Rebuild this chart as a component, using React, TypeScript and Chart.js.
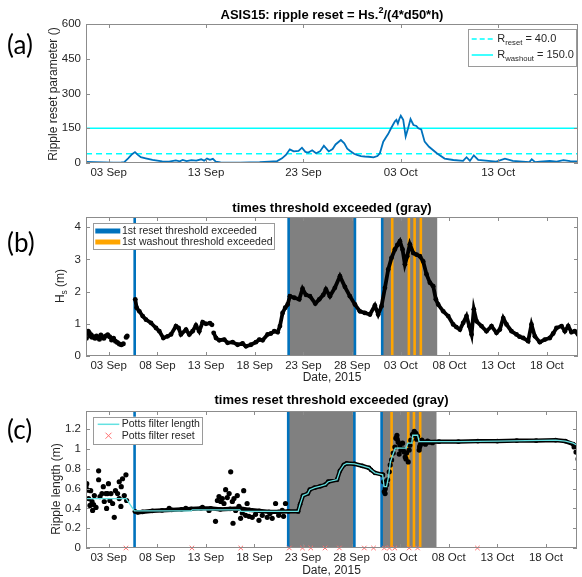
import React, { useEffect, useRef } from "react";
import { Chart, registerables } from "chart.js";
Chart.register(...registerables);

// ---------------- DATA (x = days since 1 Sep 2015) ----------------
const X_MIN = -0.33;
const X_MAX = 50.2;
const TICKS_A = [2, 12, 22, 32, 42];
const TICKS_BC = [2, 7, 12, 17, 22, 27, 32, 37, 42, 47];
const MONTHS = ["Sep", "Oct"];

// (a) ripple reset parameter
const R_RESET = 40.0;
const R_WASHOUT = 150.0;
const resetParamDays = [-0.33,0.5,1.5,2.5,3.3,3.6,4.0,4.4,4.7,5.0,5.3,5.8,6.5,7.0,7.5,8.2,8.9,9.3,9.6,10.0,10.5,11.0,11.5,11.8,12.1,12.4,12.7,13.0,13.5,14.5,15.5,16.5,17.5,18.5,19.3,19.8,20.2,20.6,21.0,21.5,21.85,22.2,22.5,22.9,23.3,23.7,24.1,24.6,25.0,25.3,25.85,26.2,26.5,26.8,27.2,27.5,27.9,28.3,28.7,29.2,29.6,29.85,30.2,30.5,30.7,31.0,31.2,31.4,31.55,31.7,31.85,32.0,32.25,32.5,32.75,33.0,33.3,33.6,33.8,34.1,34.45,34.9,35.7,36.5,37.4,38.4,38.75,39.1,39.5,39.95,41.0,41.8,42.7,43.5,44.5,45.2,45.45,45.8,46.3,47.3,48.0,48.7,49.4,50.2];
const resetParamValues = [5,4,3,2,3,4,20,38,47,35,25,20,13,10,7,6,11,7,13,8,12,10,16,10,19,14,18,6,3,2,2,3,4,6,8,20,35,59,50,52,66,48,45,55,42,50,75,50,60,80,99,85,62,52,40,35,30,28,27,24,30,42,92,112,125,150,165,180,186,170,190,204,186,114,150,190,164,160,150,145,92,70,42,19,13,9,25,9,33,13,9,6,19,9,6,4,16,4,6,9,6,12,8,7];

// (b) significant wave height
const hsEarlyDays = [-0.3,-0.2,-0.1,0.0,0.1,0.2,0.3,0.45,0.6,0.75,0.9,1.05,1.2,1.35,1.5,1.7,1.9,2.1,2.3,2.5,2.7,2.9,3.1,3.3,3.5,3.8,3.9];
const hsEarlyValues = [0.55,0.7,0.77,0.72,0.62,0.66,0.58,0.6,0.55,0.62,0.58,0.52,0.65,0.6,0.55,0.62,0.66,0.6,0.5,0.55,0.46,0.42,0.37,0.35,0.38,0.58,0.62];
const hsDays = [4.73,4.87,5.15,5.49,5.83,6.34,6.86,7.2,7.61,8.05,8.4,8.91,9.18,9.42,9.94,10.28,10.62,10.96,11.3,11.65,11.99,12.4,12.61,12.7,12.78,13.02,13.36,13.87,14.21,14.73,15.24,15.75,16.1,16.61,17.12,17.47,17.81,18.32,18.66,19.0,19.35,19.59,19.86,20.13,20.38,20.61,21.06,21.57,21.91,22.26,22.67,23.22,23.63,24.04,24.31,24.72,25.23,25.75,26.26,26.77,27.29,27.8,28.31,28.83,29.34,29.68,30.02,30.37,30.71,31.05,31.39,31.65,31.91,32.18,32.42,32.66,32.93,33.28,33.62,33.96,34.3,34.64,34.99,35.33,35.6,35.84,36.36,36.87,37.38,37.7,38.07,38.41,38.75,39.03,39.27,39.5,39.78,40.29,40.8,41.32,41.83,42.17,42.52,42.86,43.37,43.88,44.2,44.57,45.08,45.42,45.77,46.28,46.79,47.31,47.65,47.99,48.51,48.85,49.19,49.53,49.87,50.2];
const hsValues = [1.76,1.5,1.39,1.24,1.13,1.03,0.87,0.77,0.56,0.61,0.67,0.93,0.87,0.67,0.82,0.67,0.77,0.95,0.77,1.05,1.0,1.02,0.97,null,0.72,0.56,0.49,0.51,0.41,0.43,0.35,0.39,0.30,0.35,0.43,0.51,0.49,0.67,0.7,0.77,0.74,0.93,1.34,1.5,1.6,1.86,1.81,1.76,2.09,1.9,1.86,1.63,1.76,1.9,2.07,1.86,2.12,2.48,2.15,1.86,1.6,1.39,1.34,1.29,1.57,1.29,1.55,2.12,2.69,3.05,3.31,3.45,3.57,3.31,2.85,3.1,3.47,3.2,3.15,3.1,2.94,2.54,2.28,2.17,1.76,1.6,1.39,1.24,0.98,0.9,0.82,1.03,1.24,0.93,0.67,1.45,1.08,0.93,0.77,0.93,0.72,0.82,1.18,0.98,0.77,0.67,0.6,0.56,0.46,0.98,0.61,0.43,0.51,0.56,0.7,0.87,0.93,0.77,0.93,0.74,0.77,0.67];

// threshold periods (shared by b and c)
const grayPeriods = [[20.48, 27.29], [30.09, 35.74]];
const resetExceedDays = [4.67, 20.48, 27.29, 30.09];
const washoutExceedDays = [31.12, 32.83, 33.42, 34.06];

// (c) ripple length
const pottsDays = [-0.33,3.8,4.65,10.5,10.6,15.5,15.6,21.5,21.7,22.0,22.5,22.7,23.2,23.8,24.3,24.6,25.5,25.8,26.2,26.5,27.3,28.1,28.8,29.0,29.4,30.2,30.35,30.6,30.8,31.0,31.2,31.5,32.6,32.8,33.2,33.3,33.8,33.95,38.0,42.0,45.0,48.0,49.0,49.8,50.2];
const pottsValues = [0.5,0.5,0.375,0.375,0.385,0.385,0.37,0.37,0.44,0.53,0.55,0.59,0.61,0.625,0.64,0.67,0.69,0.78,0.84,0.855,0.85,0.83,0.81,0.79,0.76,0.74,0.62,0.62,0.72,0.87,0.93,1.01,1.01,1.06,1.06,1.14,1.14,1.075,1.075,1.08,1.085,1.09,1.08,1.06,1.04];
const pottsResetDays = [3.78,10.57,15.6,20.6,21.95,22.8,24.27,25.75,28.31,29.26,30.37,30.9,31.45,32.93,33.79,39.95];
const rippleBandDays = [4.7,5.0,5.5,6.5,7.5,8.5,9.5,10.5,11.5,12.5,13.5,14.5,15.5,16.5,17.5,18.5,19.5,20.5,21.5,21.7,22.0,22.5,22.7,23.2,23.8,24.3,24.6,25.5,25.8,26.2,26.5,27.3,28.1,28.8,29.0,29.4,30.2,30.25,34.4,36,38,40,42,44,46,48,49,49.8,50.2];
const rippleBandValues = [0.37,0.36,0.365,0.375,0.38,0.385,0.39,0.395,0.40,0.40,0.39,0.395,0.40,0.385,0.375,0.365,0.365,0.37,0.37,0.44,0.53,0.55,0.59,0.61,0.625,0.64,0.67,0.69,0.78,0.84,0.855,0.85,0.83,0.81,0.79,0.76,0.74,null,1.07,1.075,1.075,1.08,1.08,1.085,1.085,1.09,1.08,1.05,1.03];
const rippleEarlyDays = [-0.33,-0.25,-0.16,-0.06,0.08,0.15,0.29,0.35,0.45,0.53,0.7,0.97,0.97,1.11,1.31,1.45,1.55,1.72,1.79,1.89,1.98,2.13,2.24,2.41,2.58,2.7,2.92,3.09,3.09,3.26,3.3,3.43,3.61,3.78,3.85];
const rippleEarlyValues = [0.62,0.65,0.585,0.50,0.43,0.58,0.47,0.38,0.44,0.53,0.41,0.78,0.69,0.52,0.55,0.62,0.47,0.55,0.40,0.55,0.65,0.48,0.55,0.45,0.31,0.58,0.55,0.67,0.50,0.42,0.62,0.70,0.53,0.74,0.48];
const rippleScatterDays = [8.23,9.94,11.65,12.33,13.0,13.19,13.36,13.53,13.7,13.87,14.04,14.21,14.4,14.56,14.73,14.8,14.9,15.07,15.24,15.41,15.58,15.75,15.9,16.1,16.25,16.44,16.78,17.12,17.47,17.81,18.32,18.6,18.83,19.18,19.5,19.86,20.0,20.2,30.2,30.3,30.37,30.45,30.47,30.61,30.71,30.88,30.98,31.12,31.29,31.46,31.56,31.67,31.7,31.8,31.9,31.98,32.08,32.25,32.3,32.42,32.52,32.6,32.66,32.83,32.93,33.0,33.1,33.28,33.45,33.5,33.62,33.7,33.79,33.96,34.0,34.06,34.15,34.23,34.47,34.6,34.82,35.0,35.33,49.9,50.1,50.3];
const rippleScatterValues = [0.40,0.40,0.41,0.38,0.27,0.48,0.52,0.47,0.50,0.45,0.59,0.51,0.55,0.77,0.47,0.25,0.50,0.38,0.53,0.42,0.30,0.355,0.58,0.33,0.45,0.32,0.31,0.34,0.28,0.33,0.31,0.35,0.30,0.45,0.33,0.38,0.32,0.45,0.74,0.67,0.57,0.55,0.60,0.64,0.69,0.77,0.84,0.89,0.96,1.02,1.11,1.14,1.10,1.07,0.95,1.04,0.99,1.06,1.0,0.97,0.92,0.9,0.96,0.87,0.99,1.04,1.09,1.15,1.18,1.14,1.16,1.1,1.13,0.99,1.02,1.04,1.06,1.09,1.07,1.05,1.08,1.07,1.065,1.02,0.97,0.90];

// ---------------- STYLE ----------------
const FAMILY = '"Liberation Sans", Arial, Helvetica, sans-serif';
const TEXT = "#262626";
const AXIS = "#8c8c8c";
const BLUE = "#0072BD";
const ORANGE = "#FFA500";
const CYAN = "#00FFFF";
const POTTS = "rgb(100,225,225)";
const GRAY = "#808080";

type Run = { t: string; s?: "sub" | "sup" };

const pts = (xs: number[], ys: (number | null)[]) => xs.map((x, i) => ({ x, y: ys[i] }));

function dayLabel(v: number) {
  let day = Math.round(v) + 1;
  let m = 0;
  if (day > 30) { day -= 30; m = 1; }
  return String(day).padStart(2, "0") + " " + MONTHS[m];
}

function drawRuns(ctx: CanvasRenderingContext2D, runs: Run[], x: number, y: number, size: number, weight: string, align: "left" | "center", color: string) {
  const small = size * 0.7;
  const widths = runs.map((r) => {
    ctx.font = `${weight} ${r.s ? small : size}px ${FAMILY}`;
    return ctx.measureText(r.t).width;
  });
  const total = widths.reduce((a, b) => a + b, 0);
  let cx = align === "center" ? x - total / 2 : x;
  ctx.textAlign = "left";
  ctx.textBaseline = "middle";
  ctx.fillStyle = color;
  runs.forEach((r, i) => {
    ctx.font = `${weight} ${r.s ? small : size}px ${FAMILY}`;
    const dy = r.s === "sub" ? size * 0.32 : r.s === "sup" ? -size * 0.38 : 0;
    ctx.fillText(r.t, cx, y + dy);
    cx += widths[i];
  });
}

type LegendItem = { kind: "dash" | "line" | "bar" | "cross"; color: string; y: number; x0: number; x1: number; tx: number; runs: Run[] };
type Spec = {
  top: number; height: number; padTop: number; padBottom: number;
  yMin: number; yMax: number; yTicks: number[]; xTicks: number[];
  title: Run[]; titleY: number;
  yLabel: Run[]; yLabelX: number; yLabelY: number;
  xLabel?: string; xLabelY?: number;
  legend: { box: [number, number, number, number]; size: number; items: LegendItem[] };
  shade: boolean;
  datasets: any[];
  yFmt: (v: number) => string;
};

function decoPlugin(spec: Spec) {
  return {
    id: "deco",
    beforeDatasetsDraw(chart: any) {
      if (!spec.shade) return;
      const { ctx, chartArea: a, scales } = chart;
      const xs = scales.x;
      ctx.save();
      ctx.beginPath();
      ctx.rect(a.left, a.top, a.right - a.left, a.bottom - a.top);
      ctx.clip();
      ctx.fillStyle = GRAY;
      grayPeriods.forEach(([s, e]) => {
        const x0 = xs.getPixelForValue(s);
        const x1 = xs.getPixelForValue(e);
        ctx.fillRect(x0, a.top, x1 - x0, a.bottom - a.top);
      });
      ctx.lineWidth = 2.6;
      const vl = (d: number, c: string) => {
        const x = xs.getPixelForValue(d);
        ctx.strokeStyle = c;
        ctx.beginPath();
        ctx.moveTo(x, a.top);
        ctx.lineTo(x, a.bottom);
        ctx.stroke();
      };
      resetExceedDays.forEach((d) => vl(d, BLUE));
      washoutExceedDays.forEach((d) => vl(d, ORANGE));
      ctx.restore();
    },
    afterDraw(chart: any) {
      const { ctx, chartArea: a, scales } = chart;
      ctx.save();
      // frame
      ctx.strokeStyle = AXIS;
      ctx.lineWidth = 1;
      ctx.strokeRect(a.left + 0.5, a.top + 0.5, a.right - a.left - 1, a.bottom - a.top - 1);
      ctx.beginPath();
      spec.xTicks.forEach((v) => {
        const px = Math.round(scales.x.getPixelForValue(v)) + 0.5;
        ctx.moveTo(px, a.bottom); ctx.lineTo(px, a.bottom - 4);
        ctx.moveTo(px, a.top); ctx.lineTo(px, a.top + 4);
      });
      spec.yTicks.forEach((v) => {
        const py = Math.round(scales.y.getPixelForValue(v)) + 0.5;
        ctx.moveTo(a.left, py); ctx.lineTo(a.left + 4, py);
        ctx.moveTo(a.right, py); ctx.lineTo(a.right - 4, py);
      });
      ctx.stroke();
      // page coordinates from here
      ctx.translate(0, -spec.top);
      const cx = (a.left + a.right) / 2;
      drawRuns(ctx, spec.title, cx, spec.titleY, 13, "bold", "center", "#000");
      ctx.save();
      ctx.translate(spec.yLabelX, spec.yLabelY);
      ctx.rotate(-Math.PI / 2);
      drawRuns(ctx, spec.yLabel, 0, 0, 12, "normal", "center", TEXT);
      ctx.restore();
      if (spec.xLabel) drawRuns(ctx, [{ t: spec.xLabel }], cx, spec.xLabelY!, 12, "normal", "center", TEXT);
      // legend
      const L = spec.legend;
      const [bx0, by0, bx1, by1] = L.box;
      ctx.fillStyle = "#fff";
      ctx.fillRect(bx0, by0, bx1 - bx0, by1 - by0);
      ctx.strokeStyle = "#9a9a9a";
      ctx.lineWidth = 1;
      ctx.strokeRect(Math.round(bx0) + 0.5, Math.round(by0) + 0.5, Math.round(bx1 - bx0), Math.round(by1 - by0));
      L.items.forEach((it) => {
        ctx.save();
        ctx.strokeStyle = it.color;
        if (it.kind === "cross") {
          const m = (it.x0 + it.x1) / 2, r = 3;
          ctx.lineWidth = 1;
          ctx.beginPath();
          ctx.moveTo(m - r, it.y - r); ctx.lineTo(m + r, it.y + r);
          ctx.moveTo(m - r, it.y + r); ctx.lineTo(m + r, it.y - r);
          ctx.stroke();
        } else {
          ctx.lineWidth = it.kind === "bar" ? 5 : 1.5;
          ctx.setLineDash(it.kind === "dash" ? [5, 3] : []);
          ctx.beginPath();
          ctx.moveTo(it.x0, it.y); ctx.lineTo(it.x1, it.y);
          ctx.stroke();
        }
        ctx.restore();
        drawRuns(ctx, it.runs, it.tx, it.y, L.size, "normal", "left", TEXT);
      });
      ctx.restore();
    },
  };
}

function buildConfig(spec: Spec): any {
  const tickFont = { family: FAMILY, size: 11.5 };
  return {
    type: "scatter",
    data: { datasets: spec.datasets },
    options: {
      animation: false,
      responsive: true,
      maintainAspectRatio: false,
      events: [],
      layout: { padding: { left: 0, right: 4, top: spec.padTop, bottom: spec.padBottom } },
      plugins: { legend: { display: false }, tooltip: { enabled: false }, title: { display: false } },
      scales: {
        x: {
          type: "linear", min: X_MIN, max: X_MAX,
          afterBuildTicks: (s: any) => { s.ticks = spec.xTicks.map((v) => ({ value: v })); },
          afterFit: (s: any) => { s.height = 20; },
          grid: { display: false, drawTicks: false },
          border: { display: false },
          ticks: { callback: (v: number) => dayLabel(v), font: tickFont, color: TEXT, padding: 3, maxRotation: 0, autoSkip: false },
        },
        y: {
          type: "linear", min: spec.yMin, max: spec.yMax,
          afterBuildTicks: (s: any) => { s.ticks = spec.yTicks.map((v) => ({ value: v })); },
          afterFit: (s: any) => { s.width = 86; },
          grid: { display: false, drawTicks: false },
          border: { display: false },
          ticks: { callback: (v: number) => spec.yFmt(v), font: tickFont, color: TEXT, padding: 5, autoSkip: false },
        },
      },
    },
    plugins: [decoPlugin(spec)],
  };
}

const SPEC_A: Spec = {
  top: 0, height: 190, padTop: 24, padBottom: 7,
  yMin: 0, yMax: 600, yTicks: [0, 150, 300, 450, 600], xTicks: TICKS_A,
  title: [{ t: "ASIS15: ripple reset = Hs." }, { t: "2", s: "sup" }, { t: "/(4*d50*h)" }], titleY: 15,
  yLabel: [{ t: "Ripple reset parameter ()" }], yLabelX: 53.5, yLabelY: 94,
  shade: false,
  yFmt: (v) => String(v),
  legend: {
    box: [468.3, 29.3, 576, 66.7], size: 11,
    items: [
      { kind: "dash", color: CYAN, y: 39, x0: 471.7, x1: 493, tx: 497.3, runs: [{ t: "R" }, { t: "reset", s: "sub" }, { t: " = " + R_RESET.toFixed(1) }] },
      { kind: "line", color: CYAN, y: 55, x0: 471.7, x1: 493, tx: 497.3, runs: [{ t: "R" }, { t: "washout", s: "sub" }, { t: " = " + R_WASHOUT.toFixed(1) }] },
    ],
  },
  datasets: [
    { label: "ripple reset", data: pts(resetParamDays, resetParamValues), showLine: true, borderColor: BLUE, borderWidth: 1.8, pointRadius: 0, order: 0 },
    { label: "R_reset", data: [{ x: X_MIN, y: R_RESET }, { x: X_MAX, y: R_RESET }], showLine: true, borderColor: CYAN, borderWidth: 1.5, borderDash: [6, 4], pointRadius: 0, order: 1 },
    { label: "R_washout", data: [{ x: X_MIN, y: R_WASHOUT }, { x: X_MAX, y: R_WASHOUT }], showLine: true, borderColor: CYAN, borderWidth: 1.5, pointRadius: 0, order: 1 },
  ],
};

const SPEC_B: Spec = {
  top: 190, height: 195, padTop: 27, padBottom: 9,
  yMin: 0, yMax: 4.32, yTicks: [0, 1, 2, 3, 4], xTicks: TICKS_BC,
  title: [{ t: "times threshold exceeded (gray)" }], titleY: 208.3,
  yLabel: [{ t: "H" }, { t: "s", s: "sub" }, { t: " (m)" }], yLabelX: 61, yLabelY: 286,
  xLabel: "Date, 2015", xLabelY: 378,
  shade: true,
  yFmt: (v) => String(v),
  legend: {
    box: [93.3, 223.3, 274.3, 249.3], size: 10.5,
    items: [
      { kind: "bar", color: BLUE, y: 231, x0: 95.3, x1: 120.3, tx: 122, runs: [{ t: "1st reset threshold exceeded" }] },
      { kind: "bar", color: ORANGE, y: 242, x0: 95.3, x1: 120.3, tx: 122, runs: [{ t: "1st washout threshold exceeded" }] },
    ],
  },
  datasets: [
    { label: "Hs", data: pts(hsDays, hsValues), showLine: true, spanGaps: false, borderColor: "#000", borderWidth: 3.8, pointRadius: 2.4, pointBackgroundColor: "#000", pointBorderWidth: 0, order: 1 },
    { label: "Hs early", data: pts(hsEarlyDays, hsEarlyValues), pointRadius: 2.5, pointBackgroundColor: "#000", pointBorderWidth: 0, order: 1 },
  ],
};

const SPEC_C: Spec = {
  top: 385, height: 192, padTop: 26, padBottom: 9,
  yMin: 0, yMax: 1.385, yTicks: [0, 0.2, 0.4, 0.6, 0.8, 1, 1.2], xTicks: TICKS_BC,
  title: [{ t: "times reset threshold exceeded (gray)" }], titleY: 400.5,
  yLabel: [{ t: "Ripple length (m)" }], yLabelX: 57, yLabelY: 489,
  xLabel: "Date, 2015", xLabelY: 571,
  shade: true,
  yFmt: (v) => String(Math.round(v * 10) / 10),
  legend: {
    box: [93.3, 416.7, 202, 444], size: 10.5,
    items: [
      { kind: "line", color: POTTS, y: 424.3, x0: 97.7, x1: 119.3, tx: 121.7, runs: [{ t: "Potts filter length" }] },
      { kind: "cross", color: "#ff6f6f", y: 435.7, x0: 97.7, x1: 119.3, tx: 121.7, runs: [{ t: "Potts filter reset" }] },
    ],
  },
  datasets: [
    { label: "Potts filter length", data: pts(pottsDays, pottsValues), showLine: true, borderColor: POTTS, borderWidth: 1.3, pointRadius: 0, order: 0 },
    { label: "Potts filter reset", data: pottsResetDays.map((d) => ({ x: d, y: 0 })), pointStyle: "crossRot", pointRadius: 3.2, borderColor: "#ff6f6f", borderWidth: 1, clip: false, order: 0 },
    { label: "ripple band", data: pts(rippleBandDays, rippleBandValues), showLine: true, spanGaps: false, borderColor: "#000", borderWidth: 4.2, pointRadius: 2.4, pointBackgroundColor: "#000", pointBorderWidth: 0, order: 2 },
    { label: "ripple early", data: pts(rippleEarlyDays, rippleEarlyValues), pointRadius: 2.6, pointBackgroundColor: "#000", pointBorderWidth: 0, order: 2 },
    { label: "ripple scatter", data: pts(rippleScatterDays, rippleScatterValues), pointRadius: 2.6, pointBackgroundColor: "#000", pointBorderWidth: 0, order: 2 },
  ],
};

function Panel({ spec }: { spec: Spec }) {
  const ref = useRef<HTMLCanvasElement>(null);
  useEffect(() => {
    const chart = new Chart(ref.current as HTMLCanvasElement, buildConfig(spec));
    return () => chart.destroy();
  }, []);
  return (
    <div style={{ position: "absolute", left: 0, top: spec.top, width: 582, height: spec.height }}>
      <canvas ref={ref} />
    </div>
  );
}

const labelStyle = (top: number): React.CSSProperties => ({
  position: "absolute", left: 7, top, fontFamily: "Lato, 'Open Sans', sans-serif", fontSize: 26, lineHeight: "26px", color: "#000",
});

export default function App() {
  return (
    <div style={{ position: "absolute", left: 0, top: 0, width: 582, height: 577, background: "#fff", overflow: "hidden" }}>
      <Panel spec={SPEC_A} />
      <Panel spec={SPEC_B} />
      <Panel spec={SPEC_C} />
      <span style={labelStyle(31)}>(a)</span>
      <span style={labelStyle(229)}>(b)</span>
      <span style={labelStyle(416)}>(c)</span>
    </div>
  );
}
